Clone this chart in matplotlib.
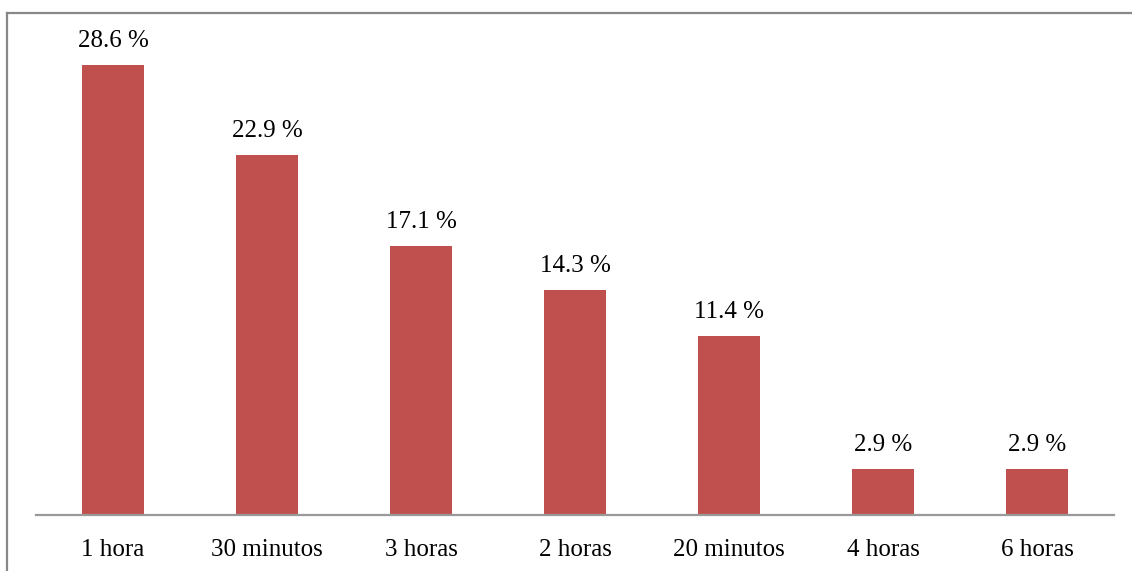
import matplotlib
matplotlib.use('Agg')
import matplotlib.pyplot as plt
from matplotlib.lines import Line2D

# ── data ─────────────────────────────────────────────────────────
categorias = ['1 hora', '30 minutos', '3 horas', '2 horas', '20 minutos', '4 horas', '6 horas']
porcentajes = [28.6, 22.9, 17.1, 14.3, 11.4, 2.9, 2.9]
etiquetas = ['28.6 %', '22.9 %', '17.1 %', '14.3 %', '11.4 %', '2.9 %', '2.9 %']

BAR_C = '#C0504D'
AX_C = '#999999'
W, H = 1132, 571

plt.rcParams['font.family'] = ['Liberation Serif', 'DejaVu Serif']

fig = plt.figure(figsize=(W / 100, H / 100), dpi=100)
fig.patch.set_facecolor('white')

# axes in pixel coords: x 36..1114, y (from top) 20..515
ax = fig.add_axes([36 / W, (H - 515) / H, (1114 - 36) / W, (515 - 20) / H])
x = list(range(len(categorias)))
ax.bar(x, porcentajes, width=0.4, color=BAR_C, zorder=2)
ax.set_xlim(-0.5, len(categorias) - 0.5)
ax.set_ylim(0, 495 / 15.73)

for xi, v, t in zip(x, porcentajes, etiquetas):
    ax.annotate(t, (xi, v), xytext=(0, 13), textcoords='offset pixels',
                ha='center', va='bottom', fontsize=18, color='black')

for s in ['top', 'right', 'left']:
    ax.spines[s].set_visible(False)
ax.spines['bottom'].set_color(AX_C)
ax.spines['bottom'].set_linewidth(1.6)
ax.set_yticks([])
ax.set_xticks(x)
ax.set_xticklabels(categorias, fontsize=18)
ax.tick_params(axis='x', length=0, pad=17)

# outer frame: top and left only
fig.add_artist(Line2D([7 / W, 1], [(H - 13) / H, (H - 13) / H], color='#888888', lw=1.6,
                      transform=fig.transFigure))
fig.add_artist(Line2D([7 / W, 7 / W], [0, (H - 13) / H], color='#888888', lw=1.6,
                      transform=fig.transFigure))

fig.savefig('out.png', dpi=100, facecolor='white')
